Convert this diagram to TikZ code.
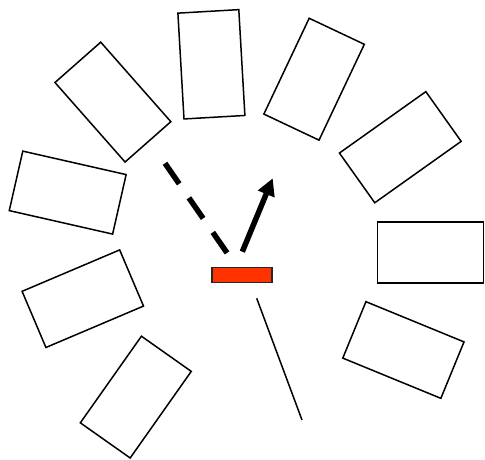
\documentclass[tikz,border=0pt]{standalone}
\usetikzlibrary{arrows.meta}
\definecolor{redfill}{HTML}{FF3300}
\tikzset{
  card/.style={draw=black, line width=1.5pt, fill=white, inner sep=0pt,
    minimum width=106pt, minimum height=61pt, shape=rectangle},
  agent/.style={draw=black!85, line width=1.5pt, fill=redfill, inner sep=0pt,
    minimum width=60pt, minimum height=15pt},
  dashlink/.style={line width=5.5pt, dash pattern=on 25pt off 17pt},
  boldarrow/.style={line width=5.5pt, -{Triangle[length=17pt,width=17pt]}},
  thinline/.style={line width=1.5pt}
}
\begin{document}
\begin{tikzpicture}[x=1pt,y=-1pt]
\useasboundingbox (0,0) rectangle (485,460);
\node[card, rotate=-48.6] (r1) at (112.9,102.1) {};
\node[card, rotate=93.3]  (r2) at (211.4,64.3) {};
\node[card, rotate=-12.8] (r3) at (67.7,192.6) {};
\node[card, rotate=64.7]  (r4) at (314.1,79.2) {};
\node[card, rotate=35.4]  (r5) at (400.3,147.2) {};
\node[card]               (r6) at (430.3,252.7) {};
\node[card, rotate=-22.3] (r7) at (403.4,350) {};
\node[card, rotate=23]    (r8) at (82.8,298.7) {};
\node[card, rotate=54.8]  (r9) at (135.8,397.1) {};
\node[agent] (ag) at (242,275) {};
\coordinate (ds) at (165,163.3);
\coordinate (de) at (227.3,253.3);
\coordinate (as) at (242.3,251.7);
\coordinate (ae) at (272.7,178.3);
\coordinate (ls) at (256.7,298.3);
\coordinate (le) at (302,420);
\draw[dashlink] (ds) -- (de);
\draw[boldarrow] (as) -- (ae);
\draw[thinline] (ls) -- (le);
\end{tikzpicture}
\end{document}
